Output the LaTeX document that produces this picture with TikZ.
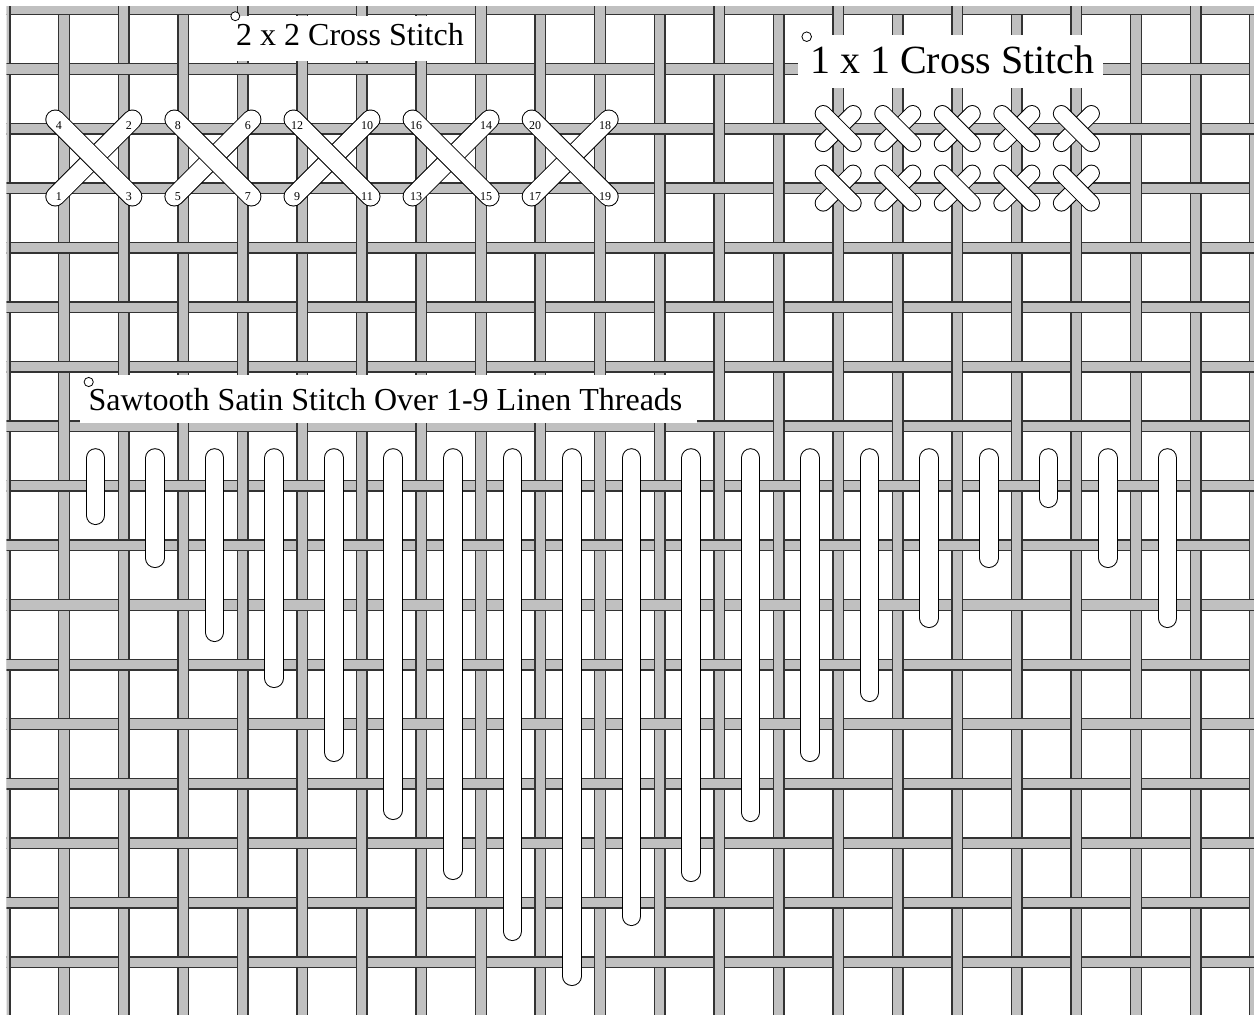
\documentclass[tikz,border=0pt]{standalone}
\usepackage{fontspec}
\setmainfont{Liberation Serif}
\usetikzlibrary{positioning}
\definecolor{cthread}{HTML}{C0C0C0}
\definecolor{cedge}{HTML}{333333}
\newcommand\stitchbar[3]{\draw[sout=#1] #2 -- #3; \draw[sin=#1] #2 -- #3;}

\begin{document}
\begin{tikzpicture}[
  x=1pt, y=-1pt,
  tedge/.style={draw=cedge, line width=1.4pt},
  sout/.style={draw=black, line width=#1+2pt, line cap=round},
  sin/.style={draw=white, line width=#1, line cap=round},
  tbox/.style={fill=white},
  ttl/.style={font=\fontsize{32}{36}\selectfont, inner sep=0pt, anchor=base west},
  tbig/.style={font=\fontsize{40}{44}\selectfont, inner sep=0pt, anchor=base west},
  num/.style={font=\fontsize{12}{12}\selectfont, inner sep=0pt},
  ring/.style={draw=black, fill=white, line width=0.8pt},
]
  \useasboundingbox (0,0) rectangle (1254,1015);
  \fill[white] (0,0) rectangle (1254,1015);
  % --- linen: woven threads ---
  \begin{scope}
    \clip (6.5,6) rectangle (1254,1015);
    \foreach \j in {0,...,16} {
      \pgfmathsetmacro\ty{9.45+59.55*\j}
      \fill[cthread] (0,\ty-6) rectangle (1254,\ty+6);
      \draw[tedge] (0,\ty-5.3) -- (1254,\ty-5.3) (0,\ty+5.3) -- (1254,\ty+5.3);
    }
    \foreach \i in {0,...,21} {
      \pgfmathsetmacro\tx{4.5+59.55*\i}
      \fill[cthread] (\tx-6,0) rectangle (\tx+6,1015);
      \draw[tedge] (\tx-5.3,0) -- (\tx-5.3,1015) (\tx+5.3,0) -- (\tx+5.3,1015);
    }
    % weft on top where i+j is odd
    \foreach \i in {0,...,21} \foreach \j in {0,...,16} {
      \pgfmathtruncatemacro\wsum{\i+\j}
      \ifodd\wsum
        \pgfmathsetmacro\tx{4.5+59.55*\i}
        \pgfmathsetmacro\ty{9.45+59.55*\j}
        \fill[cthread] (\tx-6.8,\ty-5.3) rectangle (\tx+6.8,\ty+5.3);
        \draw[tedge] (\tx-6.8,\ty-5.3) -- (\tx+6.8,\ty-5.3) (\tx-6.8,\ty+5.3) -- (\tx+6.8,\ty+5.3);
      \fi
    }
  \end{scope}
  % --- 2 x 2 cross stitch ---
  \fill[tbox] (233,16) rectangle (475,61);
  \node[ttl] (ttwo) at (236,45) {2 x 2 Cross Stitch};
  \draw[ring] (235.3,16.2) circle[radius=4.5pt];
  \foreach \k in {0,...,4} {
    \pgfmathsetmacro\cx{93.8+119.1*\k}
    \stitchbar{18pt}{(\cx-38.5,196.5)}{(\cx+38.5,119.5)}
    \stitchbar{18pt}{(\cx+38.5,196.5)}{(\cx-38.5,119.5)}
    \pgfmathtruncatemacro\na{4*\k+1}
    \pgfmathtruncatemacro\nb{4*\k+2}
    \pgfmathtruncatemacro\nc{4*\k+3}
    \pgfmathtruncatemacro\nd{4*\k+4}
    \node[num] (n\na) at (\cx-35,197) {\na};
    \node[num] (n\nb) at (\cx+35,126) {\nb};
    \node[num] (n\nc) at (\cx+35,197) {\nc};
    \node[num] (n\nd) at (\cx-35,126) {\nd};
  }
  % --- 1 x 1 cross stitch ---
  \fill[tbox] (798,35) rectangle (1103,88);
  \node[tbig] (tone) at (810,73.3) {1 x 1 Cross Stitch};
  \draw[ring] (806.7,36.7) circle[radius=4.8pt];
  \foreach \i in {14,...,18} \foreach \j in {2,3} {
    \pgfmathsetmacro\cx{4.5+59.55*\i}
    \pgfmathsetmacro\cy{9.45+59.55*\j}
    \stitchbar{15pt}{(\cx-15,\cy+15)}{(\cx+15,\cy-15)}
    \stitchbar{15pt}{(\cx-15,\cy-15)}{(\cx+15,\cy+15)}
  }
  % --- sawtooth satin stitch ---
  \fill[tbox] (80,375) rectangle (697,423);
  \node[ttl] (tsaw) at (88.5,410) {Sawtooth Satin Stitch Over 1-9 Linen Threads};
  \draw[ring] (88.7,382) circle[radius=4.6pt];
  \foreach \b [count=\k from 0] in {525,568,642,688,762,820,880,941,986,926,882,822,762,702,628,568,508,568,628} {
    \pgfmathsetmacro\sx{95.5+59.55*\k}
    \stitchbar{17.6pt}{(\sx,458)}{(\sx,\b-9.8)}
  }
\end{tikzpicture}
\end{document}
